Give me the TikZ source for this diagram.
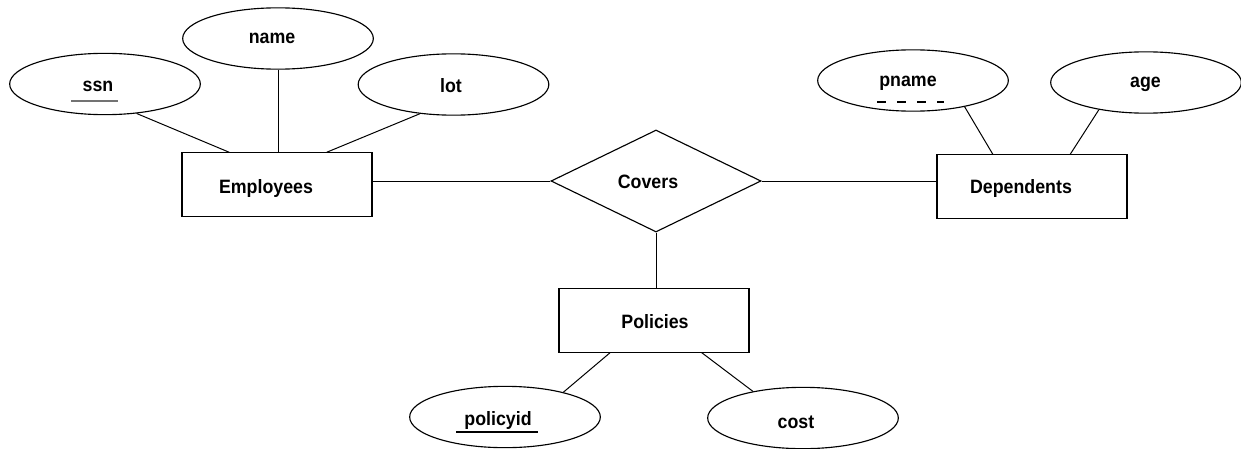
\documentclass[tikz,border=0pt]{standalone}
\usepackage{fontspec}
\setmainfont{Liberation Sans}[FakeStretch=0.92]
\usetikzlibrary{shapes.geometric,calc}

\tikzset{
  shp/.style={draw=black, line width=0.85pt, inner sep=0pt, fill=white},
  attr/.style={shp, ellipse, minimum width=143pt, minimum height=46pt},
  entity/.style={shp, rectangle, minimum width=142.5pt, minimum height=47.5pt},
  rel/.style={shp, diamond, minimum width=157.5pt, minimum height=76.5pt},
  lbl/.style={anchor=base, inner sep=0pt, font=\fontsize{14.5}{17}\selectfont\bfseries},
  link/.style={draw=black, line width=0.75pt},
  keyline/.style={line width=0.9pt}
}

\begin{document}
\begin{tikzpicture}[x=0.75pt, y=-0.75pt]
  \useasboundingbox (0,0) rectangle (1241,449);

  % entities and relationship
  \node[entity] (emp) at (277,184.5) {};
  \node[entity] (dep) at (1032,186.5) {};
  \node[entity] (pol) at (654,320.5) {};
  \node[rel] (cov) at (656,181) {};

  % attributes
  \node[attr] (ssn) at (105,84) {};
  \node[attr] (name) at (278,38.5) {};
  \node[attr] (lot) at (453.5,84.5) {};
  \node[attr] (pname) at (913,80.5) {};
  \node[attr] (age) at (1146,82.5) {};
  \node[attr] (pid) at (505,417) {};
  \node[attr] (cost) at (803,418) {};

  % labels
  \node[lbl] (empT) at (266,193) {Employees};
  \node[lbl] (depT) at (1021,193) {Dependents};
  \node[lbl] (polT) at (655,328) {Policies};
  \node[lbl] (covT) at (648,189) {Covers};
  \node[lbl] (ssnT) at (98,92) {ssn};
  \node[lbl] (nameT) at (272,44) {name};
  \node[lbl] (lotT) at (451,93) {lot};
  \node[lbl] (pnameT) at (908,87) {pname};
  \node[lbl] (ageT) at (1145.5,88) {age};
  \node[lbl] (pidT) at (498,425) {policyid};
  \node[lbl] (costT) at (796,428) {cost};

  % key underlines
  \draw[keyline, draw=black!55] ($(ssnT.base)+(-27,9)$) -- ++(47,0);
  \draw[keyline, dash pattern=on 6.5pt off 8.5pt] ($(pnameT.base)+(-31,15)$) -- ++(67,0);
  \draw[keyline] ($(pidT.base)+(-42,7)$) -- ++(82,0);

  % connectors
  \draw[link] (ssn.-43) -- ($(emp.north west)!0.25!(emp.north east)$);
  \draw[link] (name.south) -- (name.south |- emp.north);
  \draw[link] (lot.-139) -- ($(emp.north west)!0.76!(emp.north east)$);
  \draw[link] (cov.west) -- (cov.west -| emp.east);
  \draw[link] (cov.east) -- (cov.east -| dep.west);
  \draw[link] (cov.south) -- (cov.south |- pol.north);
  \draw[link] (pname.-27) -- ($(dep.north west)!0.295!(dep.north east)$);
  \draw[link] (age.-150) -- ($(dep.north west)!0.70!(dep.north east)$);
  \draw[link] (pid.23) -- ($(pol.south west)!0.27!(pol.south east)$);
  \draw[link] (cost.152) -- ($(pol.south west)!0.75!(pol.south east)$);
\end{tikzpicture}
\end{document}
